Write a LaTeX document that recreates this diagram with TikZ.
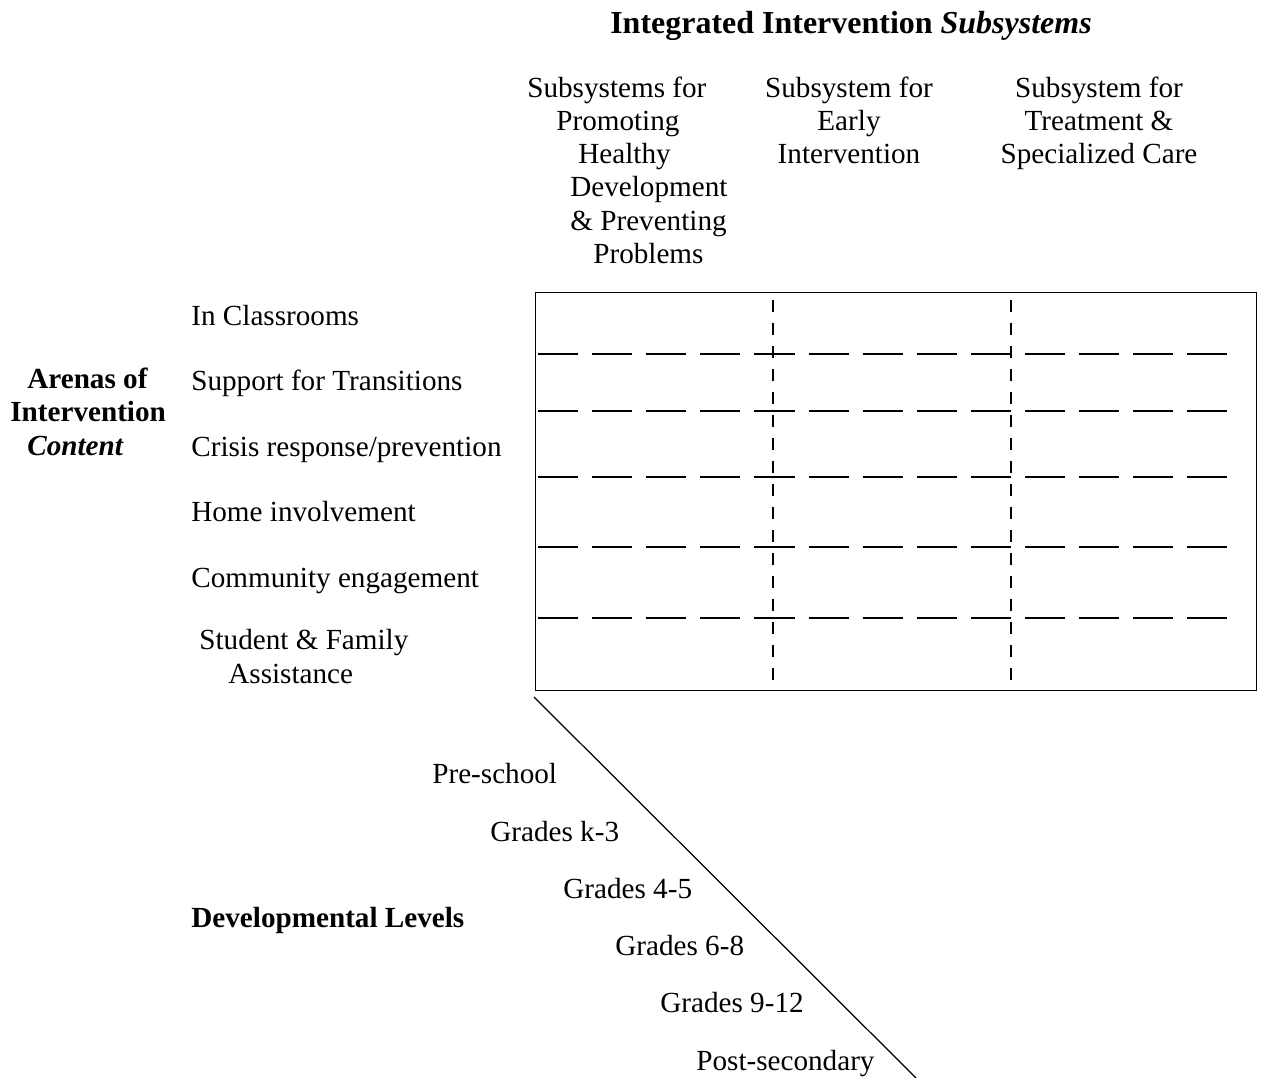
\documentclass[tikz,border=0pt]{standalone}
\usepackage{fontspec}
\setmainfont{Liberation Serif}
\usetikzlibrary{positioning}

\begin{document}
\begin{tikzpicture}[x=0.02cm, y=-0.02cm, inner sep=0pt,
        every node/.style={font=\fontsize{16.6}{18.8}\selectfont},
        rowsep/.style={line width=0.9pt, dash pattern=on 22.8pt off 8pt},
        colsep/.style={line width=0.9pt, dash pattern=on 6.8pt off 6.3pt}]
        \useasboundingbox (0,0) rectangle (1261,1078);

        % title and column heads
        \node at (851,34) [anchor=base, font=\fontsize{18.2}{20}\selectfont\bfseries] (title) {Integrated Intervention \textit{Subsystems}};
        \node at (527,77) [anchor=north west, align=left] (head_promote) {Subsystems for\\ \hspace*{0.58cm}Promoting\\ \hspace*{1.02cm}Healthy\\ \hspace*{0.86cm}Development\\ \hspace*{0.86cm}\& Preventing\\ \hspace*{1.32cm}Problems};
        \node at (849,77) [anchor=north, align=center] (head_early) {Subsystem for\\ Early\\ Intervention};
        \node at (1099,77) [anchor=north, align=center] (head_treat) {Subsystem for\\ Treatment \&\\ Specialized Care};

        % the grid
        \node at (535,292) [anchor=north west, draw, line width=0.8pt, minimum width=14.42cm, minimum height=7.96cm] (grid) {};
        \foreach \yy in {354,411,477,547,618}
            \draw[rowsep] (538,\yy) -- (1230,\yy);
        \foreach \xx in {773,1011}
            \draw[colsep] (\xx,300) -- (\xx,688);

        % arenas
        \node at (10,455) [anchor=base west, align=left, font=\fontsize{16.6}{18.8}\selectfont\bfseries] (arenas) {\hspace*{0.34cm}Arenas of\\ Intervention\\ \hspace*{0.34cm}\textit{Content}};
        \node at (191,325) [anchor=base west] (arena_class) {In Classrooms};
        \node at (191,390) [anchor=base west] (arena_trans) {Support for Transitions};
        \node at (191,456) [anchor=base west] (arena_crisis) {Crisis response/prevention};
        \node at (191,521) [anchor=base west] (arena_home) {Home involvement};
        \node at (191,587) [anchor=base west] (arena_comm) {Community engagement};
        \node at (199,683) [anchor=base west, align=left] (arena_assist) {Student \& Family\\ \hspace*{0.58cm}Assistance};

        % developmental levels
        \coordinate (levels_top) at (534,697);
        \coordinate (levels_end) at (916,1078);
        \draw[line width=0.7pt] (levels_top) -- (levels_end);
        \node at (191,927) [anchor=base west, font=\fontsize{16.6}{18.8}\selectfont\bfseries] (levels) {Developmental Levels};
        \node at (432,783) [anchor=base west] (lvl_pre) {Pre-school};
        \node at (490,841) [anchor=base west] (lvl_k3) {Grades k-3};
        \node at (563,898) [anchor=base west] (lvl_45) {Grades 4-5};
        \node at (615,955) [anchor=base west] (lvl_68) {Grades 6-8};
        \node at (660,1012) [anchor=base west] (lvl_912) {Grades 9-12};
        \node at (696,1070) [anchor=base west] (lvl_post) {Post-secondary};

    \end{tikzpicture}
\end{document}
